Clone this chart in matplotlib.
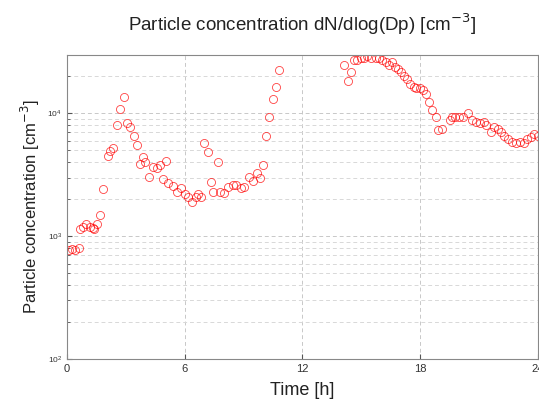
import matplotlib
matplotlib.use("Agg")
import matplotlib.pyplot as plt
from matplotlib.ticker import LogLocator, NullFormatter

plt.rcParams['font.family'] = ['Liberation Sans', 'DejaVu Sans']

# time [h] and concentration [cm^-3]
time_h = [0.1, 0.25, 0.4, 0.6, 0.66, 0.83, 1.0, 1.17, 1.32, 1.4, 1.53, 1.68, 1.83,
          2.08, 2.19, 2.34, 2.54, 2.7, 2.9, 3.05, 3.2, 3.41, 3.56, 3.71, 3.86, 4.0,
          4.17, 4.37, 4.58, 4.73, 4.88, 5.03, 5.13, 5.39, 5.59, 5.84, 6.0, 6.15,
          6.4, 6.6, 6.7, 6.86, 7.0, 7.17, 7.37, 7.47, 7.68, 7.78, 8.0, 8.19, 8.45,
          8.64, 8.85, 9.05, 9.3, 9.5, 9.7, 9.85, 10.0, 10.17, 10.32, 10.52, 10.68,
          10.83,
          14.14, 14.3, 14.5, 14.64, 14.8, 15.0, 15.15, 15.3, 15.5, 15.76, 15.9,
          16.07, 16.27, 16.4, 16.58, 16.73, 16.88, 17.0, 17.2, 17.34, 17.5, 17.7,
          17.8, 18.0, 18.15, 18.3, 18.46, 18.6, 18.8, 18.9, 19.1, 19.5, 19.6, 19.8,
          20.0, 20.2, 20.44, 20.64, 20.85, 21.05, 21.25, 21.36, 21.6, 21.76, 21.97,
          22.1, 22.27, 22.47, 22.68, 22.9, 23.1, 23.3, 23.44, 23.64, 23.8, 24.0]
conc = [780, 790, 780, 800, 1140, 1200, 1270, 1180, 1160, 1140, 1270, 1480, 2410,
        4470, 4900, 5200, 8000, 10800, 13700, 8300, 7700, 6600, 5500, 3900, 4400, 4000,
        3020, 3650, 3600, 3780, 2900, 4070, 2700, 2550, 2280, 2450, 2190, 2070,
        1890, 2070, 2190, 2070, 5700, 4830, 2750, 2280, 4000, 2280, 2240, 2500, 2600,
        2600, 2450, 2500, 3020, 2800, 3250, 2960, 3780, 6600, 9300, 13200, 16500,
        22400,
        24600, 18500, 21800, 27000, 27000, 28000, 28500, 29500, 28500, 28000, 28000,
        27000, 26000, 25000, 26000, 23700, 23200, 21600, 20000, 19200, 17500, 16300,
        16000, 16000, 15400, 14300, 12300, 10600, 9300, 7300, 7400, 8900, 9400, 9300,
        9400, 9300, 10000, 8900, 8450, 8300, 8450, 8000, 7000, 7700, 7400,
        7000, 6600, 6150, 5900, 5700, 5900, 5700, 6150, 6400, 6750, 6600]

fig = plt.figure(figsize=(5.39, 4.09), dpi=100)
ax = fig.add_axes([0.124, 0.122, 0.874, 0.744])

ax.plot(time_h, conc, 'o', mfc='none', mec='red', ms=5.8, mew=0.6, alpha=0.75)

ax.set_yscale('log')
ax.set_xlim(0, 24)
ax.set_ylim(100, 30000)
ax.set_xticks([0, 6, 12, 18, 24])
ax.yaxis.set_major_locator(LogLocator(base=10))
ax.yaxis.set_minor_locator(LogLocator(base=10, subs=range(2, 10)))
ax.yaxis.set_minor_formatter(NullFormatter())

ax.grid(True, which='major', axis='both', ls=(0, (4, 3)), color='#c8c8c8', lw=0.7)
ax.grid(True, which='minor', axis='y', ls=(0, (4, 3)), color='#d8d8d8', lw=0.7)
ax.tick_params(which='both', direction='in', colors='#555555', labelcolor='#333333')
ax.tick_params(axis='x', labelsize=8)
ax.tick_params(axis='y', labelsize=6)
for s in ax.spines.values():
    s.set_color('#888888')

ax.set_xlabel('Time [h]', fontsize=13, color='#222222', labelpad=6)
ax.set_ylabel('Particle concentration [cm$^{-3}$]', fontsize=12, color='#222222')
ax.set_title('Particle concentration dN/dlog(Dp) [cm$^{-3}$]', fontsize=13.5,
             color='#222222', pad=17)

fig.savefig('out.png', dpi=100)
